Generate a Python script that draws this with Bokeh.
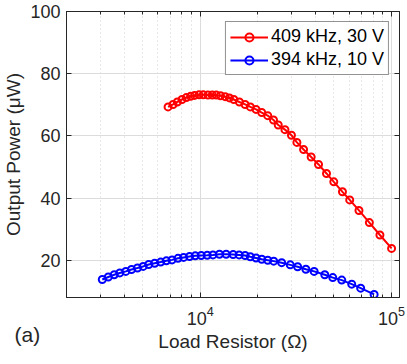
from bokeh.plotting import figure
from bokeh.models import (FixedTicker, LinearAxis, LogAxis, LogTickFormatter,
                          Legend, LegendItem, Title, Range1d)
from bokeh.embed import file_html
from bokeh.resources import INLINE

# ---- data ----
red_R = [6790, 7210, 7590, 8030, 8460, 8900, 9340, 9850, 10370, 10970, 11550, 12120,
         12760, 13500, 14210, 14980, 16020, 17160, 18280, 19570, 20960, 22530, 24150,
         25570, 27720, 29970, 32000, 34680, 37990, 41520, 45700, 49890, 55370, 60420,
         67550, 76540, 86910, 100000]
red_P = [69.3, 70.1, 70.9, 71.7, 72.3, 72.7, 73.0, 73.2, 73.2, 73.1, 73.1, 73.1, 72.9,
         72.6, 72.2, 71.7, 70.9, 70.1, 69.3, 68.5, 67.5, 66.5, 65.1, 63.5, 62.0, 60.2,
         57.9, 55.6, 53.2, 50.8, 47.9, 45.2, 42.0, 39.4, 36.0, 32.1, 28.1, 23.8]
blue_R = [3076, 3307, 3551, 3799, 4082, 4372, 4697, 5030, 5379, 5781, 6213, 6652, 7123,
          7652, 8185, 8795, 9418, 10120, 10880, 11650, 12600, 13660, 14860, 15970, 17160,
          18280, 19570, 20960, 22530, 24210, 26640, 29540, 32280, 35650, 39380, 44770,
          49280, 54910, 61910, 68950, 81060]
blue_P = [13.8, 14.6, 15.3, 15.9, 16.4, 17.0, 17.5, 18.0, 18.6, 19.0, 19.4, 19.8, 20.1,
          20.6, 20.9, 21.2, 21.4, 21.5, 21.6, 21.7, 21.9, 21.9, 21.8, 21.7, 21.5, 21.1,
          20.7, 20.3, 20.0, 19.7, 19.2, 18.5, 17.9, 17.1, 16.4, 15.3, 14.4, 13.6, 12.3,
          11.0, 9.0]
red_label = "409 kHz, 30 V"
blue_label = "394 kHz, 10 V"
x_major = [1e4, 1e5]
x_minor = [2e3, 3e3, 4e3, 5e3, 6e3, 7e3, 8e3, 9e3, 2e4, 3e4, 4e4, 5e4, 6e4, 7e4, 8e4, 9e4]
y_ticks = [20, 40, 60, 80, 100]
x_title = "Load Resistor (\u03a9)"
y_title = "Output Power (\u03bcW)"
panel_tag = "(a)"

FONT = "Liberation Sans"
INK = "#262626"

p = figure(width=407, height=364, output_backend="svg", toolbar_location=None,
           x_axis_type="log", x_range=Range1d(2000, 110000), y_range=Range1d(8, 100),
           min_border_left=64, min_border_right=8, min_border_top=11, min_border_bottom=67)
p.outline_line_color = INK
p.outline_line_width = 1

xt = FixedTicker(ticks=x_major, minor_ticks=x_minor)
yt = FixedTicker(ticks=y_ticks, minor_ticks=[])
xa = p.xaxis[0]
xa.ticker = xt
xa.formatter = LogTickFormatter()
ya = p.yaxis[0]
ya.ticker = yt

for ax in (xa, ya):
    ax.axis_line_color = INK
    ax.major_tick_line_color = INK
    ax.minor_tick_line_color = INK
    ax.major_tick_in = 5
    ax.major_tick_out = 0
    ax.minor_tick_in = 3
    ax.minor_tick_out = 0
    ax.major_label_text_font = FONT
    ax.major_label_text_font_size = "18px"
    ax.major_label_text_color = INK
    ax.axis_label_text_font = FONT
    ax.axis_label_text_font_size = "19px"
    ax.axis_label_text_font_style = "normal"
    ax.axis_label_text_color = INK

xa.axis_label = x_title
xa.major_label_standoff = 8
xa.axis_label_standoff = 3
ya.axis_label = y_title
ya.major_label_standoff = 6
ya.axis_label_standoff = 3
ya.minor_tick_line_color = None

# box axes (top / right) with inward ticks, no visible labels
top = LogAxis(ticker=xt, major_label_text_font_size="1px", major_label_text_alpha=0,
              major_label_standoff=0,
              major_tick_in=5, major_tick_out=0, minor_tick_in=3, minor_tick_out=0,
              axis_line_color=INK, major_tick_line_color=INK, minor_tick_line_color=INK)
right = LinearAxis(ticker=yt, major_label_text_font_size="1px", major_label_text_alpha=0,
                   major_label_standoff=0,
                   major_tick_in=5, major_tick_out=0, minor_tick_line_color=None,
                   axis_line_color=INK, major_tick_line_color=INK)
p.add_layout(top, "above")
p.add_layout(right, "right")

# grids
p.xgrid.ticker = xt
p.ygrid.ticker = yt
p.xgrid.grid_line_color = "#dcdcdc"
p.ygrid.grid_line_color = "#dcdcdc"
p.xgrid.minor_grid_line_color = "#d0d0d0"
p.xgrid.minor_grid_line_dash = "1 3"

r1 = p.line(red_R, red_P, line_color="#ff0000", line_width=2)
r2 = p.scatter(red_R, red_P, marker="circle", size=7, fill_color=None,
               line_color="#ff0000", line_width=2)
b1 = p.line(blue_R, blue_P, line_color="#0000ff", line_width=2)
b2 = p.scatter(blue_R, blue_P, marker="circle", size=7, fill_color=None,
               line_color="#0000ff", line_width=2)

legend = Legend(items=[LegendItem(label=red_label, renderers=[r1, r2]),
                       LegendItem(label=blue_label, renderers=[b1, b2])],
                location="top_right", margin=10, padding=4, spacing=2,
                glyph_width=38, glyph_height=20, label_standoff=3,
                label_text_font=FONT, label_text_font_size="18px",
                label_text_color="black", border_line_color=INK,
                border_line_width=1, background_fill_color="white",
                background_fill_alpha=1.0)
p.add_layout(legend)

# panel tag "(a)" at the lower-left, on the same row as the x-axis title
tag = Title(text=panel_tag, align="left", offset=-52, standoff=-64,
            vertical_align="top", text_font=FONT, text_font_size="21px",
            text_font_style="normal", text_color=INK)
p.add_layout(tag, "below")

open("out.html", "w").write(file_html(p, INLINE))
